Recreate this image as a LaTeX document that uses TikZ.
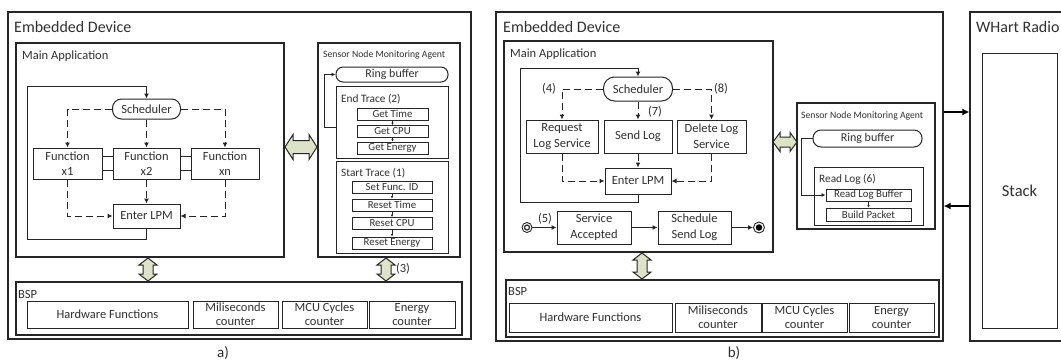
\documentclass[tikz,border=0pt]{standalone}
\usepackage{fontspec}
\setmainfont{Carlito}
\usetikzlibrary{arrows.meta,calc}
\definecolor{lc}{HTML}{262626}
\definecolor{tc}{HTML}{303030}
\definecolor{fatc}{HTML}{DDE3C8}
\newcommand{\fs}[1]{\fontsize{#1}{\dimexpr#1pt*5/4\relax}\selectfont}
\newcommand{\fsb}[1]{\fontsize{#1}{\dimexpr#1pt*9/8\relax}\selectfont}
\newcommand{\fatV}[3]{\filldraw[fat] (#1,#2) -- (#1+9,#2+7) -- (#1+5,#2+7) -- (#1+5,#3-7) -- (#1+9,#3-7) -- (#1,#3) -- (#1-9,#3-7) -- (#1-5,#3-7) -- (#1-5,#2+7) -- (#1-9,#2+7) -- cycle;}
\newcommand{\fatH}[6]{\filldraw[fat] (#1,#3) -- (#1+#6,#3-#4) -- (#1+#6,#3-#5) -- (#2-#6,#3-#5) -- (#2-#6,#3-#4) -- (#2,#3) -- (#2-#6,#3+#4) -- (#2-#6,#3+#5) -- (#1+#6,#3+#5) -- (#1+#6,#3+#4) -- cycle;}
\begin{document}
\begin{tikzpicture}[x=1pt,y=-1pt,
  every node/.style={text=tc},
  bx/.style={draw=lc, line width=1pt, inner sep=0pt, align=center, font=\fs{12.5}},
  bx2/.style={bx, font=\fsb{12.5}},
  cont/.style={draw=lc, line width=1.2pt, inner sep=0pt},
  rbx/.style={bx, rounded corners=9pt},
  sbx/.style={draw=lc, line width=1pt, inner sep=0pt, font=\fs{10.8}},
  lbl/.style={inner sep=0pt, anchor=base west},
  num/.style={inner sep=0pt, font=\fs{12.5}},
  ar/.style={draw=lc, line width=1pt, -{Latex[length=5pt,width=5pt]}},
  arS/.style={draw=lc, line width=0.9pt, -{Latex[length=4pt,width=4pt]}},
  arB/.style={draw=black, line width=1.6pt, -{Latex[length=7pt,width=7pt]}},
  dar/.style={ar, dash pattern=on 7pt off 4pt},
  tar/.style={draw=lc, line width=0.7pt, -{Latex[length=2.5pt,width=2.5pt]}},
  fat/.style={draw=lc, line width=1pt, fill=fatc},
]
\useasboundingbox (0,0) rectangle (1061,360);
\clip (0,0) rectangle (1061,360);
\fill[white] (0,0) rectangle (1061,360);

% ================= Panel a =================
\node[cont, minimum width=463pt, minimum height=327pt] (outA) at (239.5,175.5) {};
\node[lbl, font=\fs{16}] (tOutA) at (14,32) {Embedded Device};
\node[cont, minimum width=268pt, minimum height=214pt] (mainA) at (150,150) {};
\node[lbl, font=\fs{12.5}] (tMainA) at (22,59) {Main Application};
\node[rbx, minimum width=68pt, minimum height=20pt] (schedA) at (146.5,109) {Scheduler};
\node[bx, minimum width=69pt, minimum height=31pt] (f1) at (67.5,163.5) {Function\\x1};
\node[bx, minimum width=67pt, minimum height=31pt] (f2) at (146.5,163.5) {Function\\x2};
\node[bx, minimum width=68pt, minimum height=31pt] (fn) at (225,163.5) {Function\\xn};
\node[bx, minimum width=67pt, minimum height=24pt] (lpmA) at (146.5,216) {Enter LPM};
\coordinate (la1) at (27,239);
\coordinate (la2) at (27,86);

\draw[dar] (schedA.west) -| (f1.north);
\draw[dar] (schedA.east) -| (fn.north);
\draw[dar] (schedA.south) -- (f2.north);
\draw[dar] (f1.south) |- (lpmA.west);
\draw[dar] (fn.south) |- (lpmA.east);
\draw[dar] (f2.south) -- (lpmA.north);
\draw[ar] (lpmA.south) |- (la1) -- (la2) -| (schedA.north);
\draw[draw=lc, line width=1pt] ([yshift=7.5pt]f1.east) -- ([yshift=7.5pt]f2.west);
\draw[draw=lc, line width=1pt] ([yshift=-6.5pt]f1.east) -- ([yshift=-6.5pt]f2.west);
\draw[draw=lc, line width=1pt] ([yshift=7.5pt]f2.east) -- ([yshift=7.5pt]fn.west);
\draw[draw=lc, line width=1pt] ([yshift=-6.5pt]f2.east) -- ([yshift=-6.5pt]fn.west);

% agent a
\node[cont, minimum width=142pt, minimum height=214pt] (agA) at (389,150) {};
\node[lbl, font=\fs{9.7}] (tAgA) at (323,57) {Sensor Node Monitoring Agent};
\node[rbx, font=\fs{12}, minimum width=112pt, minimum height=15pt, rounded corners=7pt] (ringA) at (392,74.5) {Ring buffer};
\node[bx, minimum width=112pt, minimum height=72pt] (endT) at (392,122) {};
\node[lbl, font=\fs{11.3}] (tEndT) at (341,102) {End Trace (2)};
\node[sbx, minimum width=71pt, minimum height=12pt] (gT) at (392.5,114) {Get Time};
\node[sbx, minimum width=71pt, minimum height=12pt] (gC) at (392.5,131.5) {Get CPU};
\node[sbx, minimum width=71pt, minimum height=12pt] (gE) at (392.5,148) {Get Energy};
\draw[tar] (gT.south) -- (gC.north);
\draw[tar] (gC.south) -- (gE.north);
\draw[arS] ([yshift=-5pt]endT.west) -- ++(-11,0) |- (ringA.west);

\node[bx, minimum width=112pt, minimum height=92pt] (stT) at (392,207) {};
\node[lbl, font=\fs{11.3}] (tStT) at (341,176) {Start Trace (1)};
\node[sbx, minimum width=80pt, minimum height=12pt] (sF) at (392,187) {Set Func. ID};
\node[sbx, minimum width=80pt, minimum height=12pt] (rT) at (392,205) {Reset Time};
\node[sbx, minimum width=80pt, minimum height=12pt] (rC) at (392,223.5) {Reset CPU};
\node[sbx, minimum width=80pt, minimum height=12pt] (rE) at (392,243) {Reset Energy};
\draw[tar] (sF.south) -- (rT.north);
\draw[tar] (rT.south) -- (rC.north);
\draw[tar] (rC.south) -- (rE.north);

% BSP a
\node[cont, minimum width=446pt, minimum height=53pt] (bspA) at (239,308.5) {};
\node[lbl, font=\fs{12.5}] (tBspA) at (18,298) {BSP};
\node[bx, minimum width=161pt, minimum height=27pt] (hwA) at (107.5,314.5) {Hardware Functions};
\node[bx2, minimum width=85pt, minimum height=27pt] (msA) at (235.5,314.5) {Miliseconds\\counter};
\node[bx2, minimum width=85pt, minimum height=27pt] (mcuA) at (324.5,314.5) {MCU Cycles\\counter};
\node[bx2, minimum width=86pt, minimum height=27pt] (enA) at (412,314.5) {Energy\\counter};

\fatV{148}{258}{281}
\fatV{386}{258}{281}
\fatH{285}{317}{147}{12.5}{6.5}{8}
\node[num] (l3) at (403,269) {(3)};
\node[num, font=\fs{15}] (capA) at (223,353) {a)};

% ================= Panel b =================
\node[cont, minimum width=447pt, minimum height=329pt] (outB) at (719.5,176.5) {};
\node[lbl, font=\fs{16}] (tOutB) at (503,32) {Embedded Device};
\node[cont, minimum width=269pt, minimum height=211pt] (mainB) at (638.5,146.5) {};
\node[lbl, font=\fs{12.5}] (tMainB) at (510,57) {Main Application};
\node[rbx, minimum width=69pt, minimum height=24pt, rounded corners=11pt] (schedB) at (638,89) {Scheduler};
\node[bx, minimum width=72pt, minimum height=33pt] (reqB) at (562,136.5) {Request\\Log Service};
\node[bx, minimum width=68pt, minimum height=33pt] (sendB) at (638,136.5) {Send Log};
\node[bx, minimum width=69pt, minimum height=33pt] (delB) at (711.5,136.5) {Delete Log\\Service};
\node[bx, minimum width=66pt, minimum height=26pt] (lpmB) at (638,181) {Enter LPM};
\coordinate (lb1) at (520,202);
\coordinate (lb2) at (520,68);

\draw[dar] (schedB.west) -| (reqB.north);
\draw[dar] (schedB.east) -| (delB.north);
\draw[dar] (schedB.south) -- (sendB.north);
\draw[dar] (reqB.south) |- (lpmB.west);
\draw[dar] (delB.south) |- (lpmB.east);
\draw[dar] (sendB.south) -- (lpmB.north);
\draw[ar] (lpmB.south) |- (lb1) -- (lb2) -| (schedB.north);
\node[num] (l4) at (549,89) {(4)};
\node[num] (l8) at (721,89) {(8)};
\node[num] (l7) at (655,112) {(7)};

\node[circle, draw=lc, line width=0.9pt, minimum size=10pt, inner sep=0pt] (ini) at (527,227.5) {};
\node[circle, draw=lc, line width=1.2pt, minimum size=5pt, inner sep=0pt] (ini2) at (527,227.5) {};
\node[bx, minimum width=74pt, minimum height=33pt] (servB) at (594,227.5) {Service\\Accepted};
\node[bx, minimum width=73pt, minimum height=33pt] (schB) at (694.5,227.5) {Schedule\\Send Log};
\node[circle, draw=lc, line width=0.9pt, minimum size=11pt, inner sep=0pt] (fin) at (759,227.5) {};
\node[circle, fill=black, minimum size=6.5pt, inner sep=0pt] (fin2) at (759,227.5) {};
\draw[ar] (ini) -- (servB.west);
\draw[ar] (servB) -- (schB);
\draw[ar] (schB) -- (fin);
\node[num] (l5) at (545,219) {(5)};

% agent b
\node[cont, minimum width=138pt, minimum height=126pt] (agB) at (866,166) {};
\node[lbl, font=\fs{9.7}] (tAgB) at (801,118) {Sensor Node Monitoring Agent};
\node[rbx, font=\fs{12}, minimum width=109pt, minimum height=17pt, rounded corners=8pt] (ringB) at (867.5,138.5) {Ring buffer};
\node[bx, minimum width=109pt, minimum height=58pt] (readB) at (868.5,196) {};
\node[lbl, font=\fs{11.3}] (tReadB) at (819,182) {Read Log (6)};
\node[sbx, minimum width=85pt, minimum height=12pt] (rlb) at (868.5,195) {Read Log Buffer};
\node[sbx, minimum width=85pt, minimum height=13pt] (bp) at (868.5,214.5) {Build Packet};
\draw[arS] (ringB.west) -- ++(-11,0) |- (rlb.west);
\draw[tar] (rlb.south) -- (bp.north);

% BSP b
\node[cont, minimum width=433pt, minimum height=57pt] (bspB) at (722.5,308.5) {};
\node[lbl, font=\fs{12.5}] (tBspB) at (508,295) {BSP};
\node[bx, minimum width=163pt, minimum height=29pt] (hwB) at (590.5,317.5) {Hardware Functions};
\node[bx2, minimum width=86pt, minimum height=29pt] (msB) at (718,317.5) {Miliseconds\\counter};
\node[bx2, minimum width=85pt, minimum height=29pt] (mcuB) at (804.5,317.5) {MCU Cycles\\counter};
\node[bx2, minimum width=85pt, minimum height=29pt] (enB) at (891.5,317.5) {Energy\\counter};

\fatV{642}{253}{279}
\fatH{773}{797}{142}{9.5}{5}{7}
\node[num, font=\fs{15}] (capB) at (734,353) {b)};

% ================= WHart =================
\node[cont, minimum width=105pt, minimum height=329pt] (wh) at (1022.5,176.5) {};
\node[lbl, font=\fs{16}] (tWh) at (976,32) {WHart Radio};
\node[bx, font=\fs{16.5}, minimum width=75pt, minimum height=275pt] (stack) at (1019.5,190.5) {Stack};
\draw[arB] ([yshift=64.5pt]outB.east) -- ([yshift=64.5pt]wh.west);
\draw[arB] ([yshift=-29.5pt]wh.west) -- ([yshift=-29.5pt]outB.east);
\end{tikzpicture}
\end{document}
